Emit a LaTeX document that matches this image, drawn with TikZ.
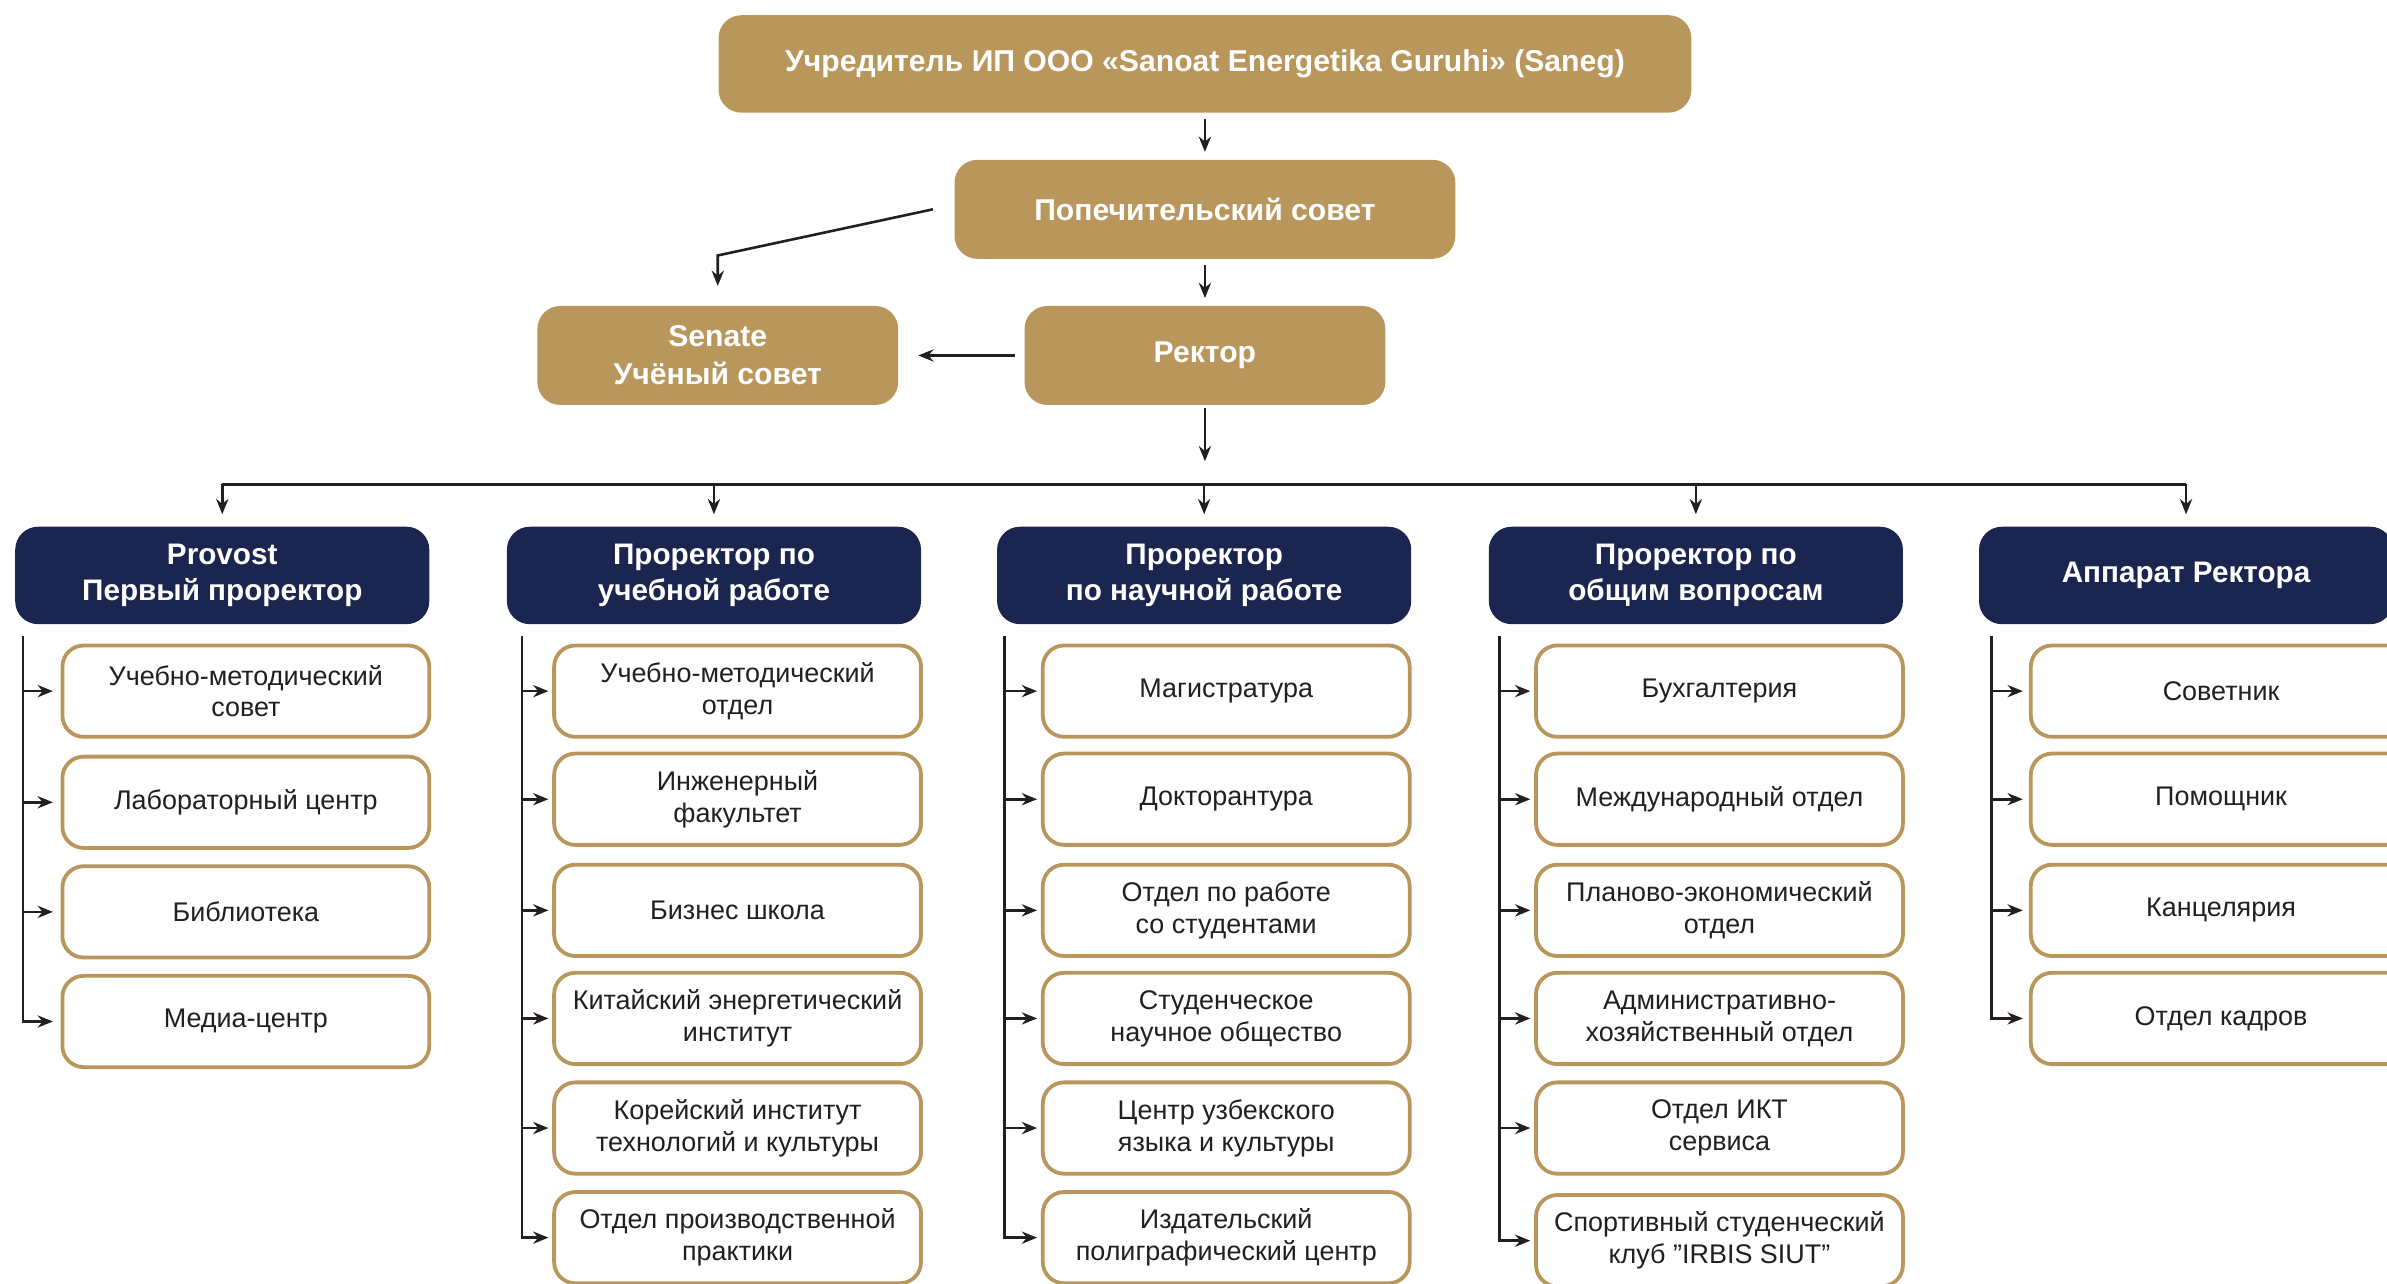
\documentclass[tikz,border=0pt]{standalone}
\usepackage{fontspec}
\setmainfont{Liberation Sans}
\usetikzlibrary{arrows.meta}
\definecolor{gold}{HTML}{B9965B}
\definecolor{navy}{HTML}{1B2650}
\definecolor{ink}{HTML}{231F20}
\tikzset{
  goldbox/.style={fill=gold, draw=none, rounded corners=15pt, text=white,
    font=\bfseries\fontsize{19.8}{25}\selectfont, align=center, inner sep=0pt},
  headbox/.style={fill=navy, draw=none, rounded corners=15pt, text=white,
    font=\bfseries\fontsize{19.5}{24}\selectfont, align=center,
    minimum width=272pt, minimum height=64pt, inner sep=0pt},
  unitbox/.style={fill=white, draw=gold, line width=2.5pt, rounded corners=14pt, text=ink,
    font=\fontsize{17.7}{21}\selectfont, align=center,
    minimum width=241pt, minimum height=60pt, inner sep=0pt},
  link/.style={draw=ink, line width=1.7pt},
  arr/.style={link, -{Stealth[length=10pt,width=8pt]}},
}
\begin{document}
\begin{tikzpicture}[x=1pt,y=-1pt]
\useasboundingbox (0,0) rectangle (1568,843);
\clip (0,0) rectangle (1568,843);

% top level
\node[goldbox, minimum width=639pt, minimum height=64pt] (top) at (791.5,42)
  {Учредитель ИП ООО «Sanoat Energetika Guruhi» (Saneg)};
\node[goldbox, minimum width=329pt, minimum height=65pt] (pop) at (791.5,137.5)
  {Попечительский совет};
\node[goldbox, minimum width=237pt, minimum height=65pt] (rector) at (791.5,233.5)
  {Ректор};
\node[goldbox, minimum width=237pt, minimum height=65pt] (senate) at (471.5,233.5)
  {Senate\\Учёный совет};

\draw[arr, shorten <=4pt, shorten >=5pt] (top.south) -- (pop.north);
\draw[arr, shorten <=4pt, shorten >=5pt] (pop.south) -- (rector.north);
\draw[arr, shorten >=13pt] ([xshift=-14pt]pop.west) -- ([yshift=33pt]senate.north) -- (senate.north);
\draw[arr, shorten <=6pt, shorten >=13pt] (rector.west) -- (senate.east);

% heads
\node[headbox] (h1) at (146,378) {Provost\\Первый проректор};
\node[headbox] (h2) at (469,378) {Проректор по\\учебной работе};
\node[headbox] (h3) at (791,378) {Проректор\\по научной работе};
\node[headbox] (h4) at (1114,378) {Проректор по\\общим вопросам};
\node[headbox] (h5) at (1436,378) {Аппарат Ректора};

\coordinate (bus) at (791,318);
\draw[arr, shorten <=2pt, shorten >=15pt] (rector.south) -- (rector.south |- bus);
\draw[link, line width=2pt] (h1.north |- bus) -- (h5.north |- bus);
\foreach \i in {1,...,5}
  \draw[arr, shorten >=8pt] (h\i.north |- bus) -- (h\i.north);

% column 1
\node[unitbox] (c1-1) at (161.5,454) {Учебно-методический\\совет};
\node[unitbox] (c1-2) at (161.5,527) {Лабораторный центр};
\node[unitbox] (c1-3) at (161.5,599) {Библиотека};
\node[unitbox] (c1-4) at (161.5,671) {Медиа-центр};

% column 2
\node[unitbox] (c2-1) at (484.5,454) {Учебно-методический\\отдел};
\node[unitbox] (c2-2) at (484.5,525) {Инженерный\\факультет};
\node[unitbox] (c2-3) at (484.5,598) {Бизнес школа};
\node[unitbox] (c2-4) at (484.5,669) {Китайский энергетический\\институт};
\node[unitbox] (c2-5) at (484.5,741) {Корейский институт\\технологий и культуры};
\node[unitbox] (c2-6) at (484.5,813) {Отдел производственной\\практики};

% column 3
\node[unitbox] (c3-1) at (805.5,454) {Магистратура};
\node[unitbox] (c3-2) at (805.5,525) {Докторантура};
\node[unitbox] (c3-3) at (805.5,598) {Отдел по работе\\со студентами};
\node[unitbox] (c3-4) at (805.5,669) {Студенческое\\научное общество};
\node[unitbox] (c3-5) at (805.5,741) {Центр узбекского\\языка и культуры};
\node[unitbox] (c3-6) at (805.5,813) {Издательский\\полиграфический центр};

% column 4
\node[unitbox] (c4-1) at (1129.5,454) {Бухгалтерия};
\node[unitbox] (c4-2) at (1129.5,525) {Международный отдел};
\node[unitbox] (c4-3) at (1129.5,598) {Планово-экономический\\отдел};
\node[unitbox] (c4-4) at (1129.5,669) {Административно-\\хозяйственный отдел};
\node[unitbox] (c4-5) at (1129.5,741) {Отдел ИКТ\\сервиса};
\node[unitbox] (c4-6) at (1129.5,815) {Спортивный студенческий\\клуб {\char34}IRBIS SIUT{\char34}};

% column 5
\node[unitbox, minimum width=250pt] (c5-1) at (1459,454) {Советник};
\node[unitbox, minimum width=250pt] (c5-2) at (1459,525) {Помощник};
\node[unitbox, minimum width=250pt] (c5-3) at (1459,598) {Канцелярия};
\node[unitbox, minimum width=250pt] (c5-4) at (1459,669) {Отдел кадров};

% trunks
\coordinate (t1) at (15,418);
\coordinate (t2) at (343,418);
\coordinate (t3) at (660,418);
\coordinate (t4) at (985,418);
\coordinate (t5) at (1308,418);

\draw[arr, shorten >=5pt] (t1) |- (c1-4.west);
\foreach \j in {1,2,3}
  \draw[arr, shorten >=5pt] (t1 |- c1-\j.west) -- (c1-\j.west);

\foreach \c/\n in {2/6,3/6,4/6}{
  \draw[arr, shorten >=2.5pt] (t\c) |- (c\c-\n.west);
  \foreach \j in {1,...,5}
    \draw[arr, shorten >=2.5pt] (t\c |- c\c-\j.west) -- (c\c-\j.west);
}

\draw[arr, shorten >=4pt] (t5) |- (c5-4.west);
\foreach \j in {1,2,3}
  \draw[arr, shorten >=4pt] (t5 |- c5-\j.west) -- (c5-\j.west);
\end{tikzpicture}
\end{document}
